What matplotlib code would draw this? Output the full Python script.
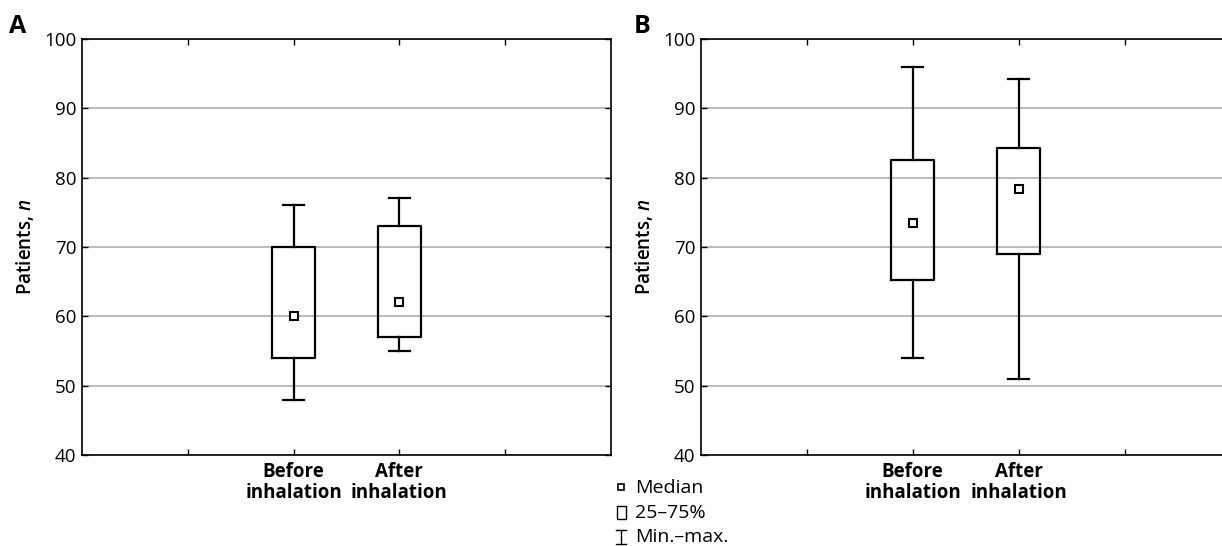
import matplotlib
matplotlib.use("Agg")
import matplotlib.pyplot as plt
from matplotlib.lines import Line2D
from matplotlib.patches import Rectangle

plt.rcParams['font.family'] = ['Open Sans', 'DejaVu Sans']
plt.rcParams['mathtext.fontset'] = 'custom'
plt.rcParams['mathtext.it'] = 'Open Sans:italic:semibold'
plt.rcParams['mathtext.rm'] = 'Open Sans'

categories = ["Before\ninhalation", "After\ninhalation"]
# Panel A
a_min = [48, 55]
a_q1 = [54, 57]
a_med = [60, 62]
a_q3 = [70, 73]
a_max = [76, 77]
# Panel B
b_min = [54, 51]
b_q1 = [65.3, 69]
b_med = [73.5, 78.3]
b_q3 = [82.5, 84.3]
b_max = [96, 94.2]

yticks = [40, 50, 60, 70, 80, 90, 100]
legend_labels = ["Median", "25\u201375%", "Min.\u2013max."]

W, H = 1222, 546
fig = plt.figure(figsize=(W / 100, H / 100), dpi=100)

def px(x0, x1, y0, y1):
    return [x0 / W, 1 - y1 / H, (x1 - x0) / W, (y1 - y0) / H]

axA = fig.add_axes(px(82, 611, 39, 455))
axB = fig.add_axes(px(700.7, 1230.7, 39, 455))

def draw(ax, mins, q1, med, q3, maxs):
    pos = [2, 3]
    stats = []
    for i in range(len(categories)):
        stats.append(dict(med=med[i], q1=q1[i], q3=q3[i], whislo=mins[i], whishi=maxs[i], fliers=[]))
    ax.bxp(stats, positions=pos, widths=0.405, capwidths=0.2, showfliers=False,
           boxprops=dict(color='black', linewidth=1.6),
           whiskerprops=dict(color='black', linewidth=1.6),
           capprops=dict(color='black', linewidth=1.6),
           medianprops=dict(visible=False), manage_ticks=False, zorder=3)
    ax.plot(pos, med, linestyle='none', marker='s', markersize=5.5,
            markerfacecolor='white', markeredgecolor='black', markeredgewidth=1.5, zorder=4)
    ax.set_xlim(0, 5)
    ax.set_ylim(40, 100)
    ax.set_yticks(yticks)
    ax.set_xticks([1, 2, 3, 4])
    ax.set_xticklabels([''] + categories + [''], fontweight='bold', fontsize=12.5, linespacing=1.1)
    ax.tick_params(axis='both', direction='in', length=4.5, width=1.0, top=True, right=True,
                   labelsize=13.5, colors='black')
    ax.tick_params(axis='y', pad=4)
    ax.tick_params(axis='x', pad=5)
    ax.yaxis.grid(True, color='#a8a8a8', linewidth=1.1, zorder=0)
    ax.set_axisbelow(True)
    for s in ax.spines.values():
        s.set_linewidth(1.2)
        s.set_color('black')
    ax.set_ylabel("Patients, $n$", fontsize=13.5, fontweight='semibold', labelpad=6)

draw(axA, a_min, a_q1, a_med, a_q3, a_max)
draw(axB, b_min, b_q1, b_med, b_q3, b_max)

fig.text(9 / W, 1 - 33 / H, "A", fontsize=18, fontweight='bold', ha='left', va='baseline')
fig.text(634 / W, 1 - 33 / H, "B", fontsize=18, fontweight='bold', ha='left', va='baseline')

# Legend
lx = 621
ys = [488, 513, 537]
fig.add_artist(Line2D([lx / W], [1 - (ys[0] - 1) / H], marker='s', markersize=4, markerfacecolor='white',
                      markeredgecolor='black', markeredgewidth=1.2, linestyle='none'))
fig.add_artist(Rectangle(((lx - 4) / W, 1 - (ys[1] + 6) / H), 9 / W, 13 / H, fill=False,
                         edgecolor='black', linewidth=1.0))
yt, yb = 1 - (ys[2] - 7) / H, 1 - (ys[2] + 7) / H
fig.add_artist(Line2D([lx / W, lx / W], [yb, yt], color='black', linewidth=1.0))
fig.add_artist(Line2D([(lx - 5) / W, (lx + 5) / W], [yt, yt], color='black', linewidth=1.0))
fig.add_artist(Line2D([(lx - 5) / W, (lx + 5) / W], [yb, yb], color='black', linewidth=1.0))
for y, t in zip(ys, legend_labels):
    fig.text((lx + 14) / W, 1 - y / H, t, fontsize=14, ha='left', va='center')

fig.savefig("out.png", dpi=100)
